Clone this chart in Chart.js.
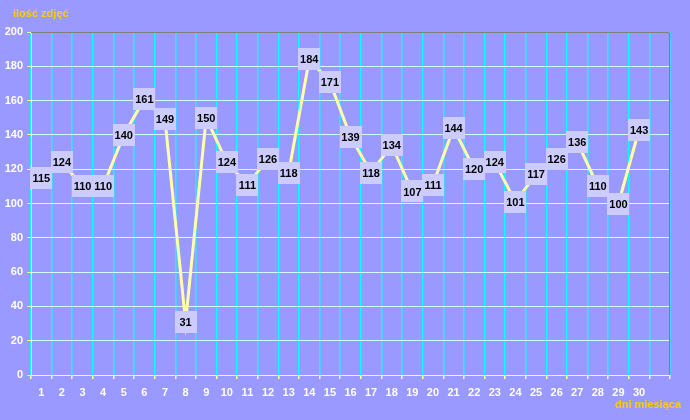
<!DOCTYPE html>
<html>
<head>
<meta charset="utf-8">
<script src="https://cdn.jsdelivr.net/npm/chart.js@4.4.0/dist/chart.umd.min.js"></script>
<style>
  html, body { margin: 0; padding: 0; background: #9999ff; }
  #wrap { width: 690px; height: 420px; }
</style>
</head>
<body>
<div id="wrap"><canvas id="chart"></canvas></div>
<script>
// dni miesiąca (31st slot stays empty)
const days = ['1','2','3','4','5','6','7','8','9','10','11','12','13','14','15','16','17','18','19','20','21','22','23','24','25','26','27','28','29','30',''];
const photos = [115, 124, 110, 110, 140, 161, 149, 31, 150, 124, 111, 126, 118, 184, 171, 139, 118, 134, 107, 111, 144, 120, 124, 101, 117, 126, 136, 110, 100, 143];
const yTicks = [0, 20, 40, 60, 80, 100, 120, 140, 160, 180, 200];

const FONT = 'Arial, "Liberation Sans", sans-serif';

// titles, frame and value boxes
const decor = {
    id: 'decor',
    beforeDatasetsDraw(chart) {
        const ctx = chart.ctx;
        const a = chart.chartArea;
        ctx.save();
        ctx.strokeStyle = '#808080';
        ctx.lineWidth = 1;
        ctx.beginPath();
        ctx.moveTo(a.left, a.top + 0.5);
        ctx.lineTo(a.right - 0.5, a.top + 0.5);
        ctx.lineTo(a.right - 0.5, a.bottom);
        ctx.stroke();
        ctx.restore();
    },
    afterDatasetsDraw(chart) {
        const ctx = chart.ctx;
        const meta = chart.getDatasetMeta(0);
        ctx.save();
        ctx.font = 'bold 11px ' + FONT;
        ctx.textAlign = 'center';
        ctx.textBaseline = 'middle';
        meta.data.forEach((pt, i) => {
            ctx.fillStyle = '#ccccff';
            ctx.fillRect(Math.round(pt.x) - 11, Math.round(pt.y) - 11, 22, 22);
            ctx.fillStyle = '#000000';
            ctx.fillText(String(photos[i]), pt.x, pt.y + 1);
        });
        ctx.fillStyle = '#ffcc00';
        ctx.textAlign = 'left';
        ctx.fillText('ilość zdjęć', 13, 14);
        ctx.textAlign = 'right';
        ctx.fillText('dni miesiąca', 681, 405);
        ctx.restore();
    }
};

new Chart(document.getElementById('chart'), {
    type: 'line',
    data: {
        labels: days,
        datasets: [{
            label: 'ilość zdjęć',
            data: photos,
            borderColor: '#ffffaa',
            borderWidth: 3,
            pointRadius: 0,
            tension: 0,
        }],
    },
    options: {
        responsive: true,
        maintainAspectRatio: false,
        animation: false,
        layout: { padding: { top: 32, right: 20, left: 0, bottom: 0 } },
        plugins: {
            legend: { display: false },
            tooltip: { enabled: false },
        },
        scales: {
            x: {
                offset: true,
                grid: {
                    offset: true,
                    color: '#00ffff',
                    lineWidth: 1.5,
                    tickColor: '#ffff99',
                    tickLength: 4,
                },
                border: { color: '#ffff99', width: 1 },
                ticks: {
                    color: '#ffffff',
                    font: { family: FONT, size: 11, weight: 'bold' },
                    padding: 7,
                    maxRotation: 0,
                    autoSkip: false,
                },
                afterFit(scale) { scale.height = 45; },
            },
            y: {
                min: 0,
                max: 200,
                afterBuildTicks(scale) { scale.ticks = yTicks.map(v => ({ value: v })); },
                grid: {
                    color: '#ccffff',
                    lineWidth: 1,
                    tickColor: '#ffff99',
                    tickLength: 4,
                },
                border: { color: '#ffff99', width: 1 },
                ticks: {
                    color: '#ffffff',
                    font: { family: FONT, size: 11, weight: 'bold' },
                    padding: 4,
                },
                afterFit(scale) { scale.width = 31; },
            },
        },
    },
    plugins: [decor],
});
</script>
</body>
</html>
